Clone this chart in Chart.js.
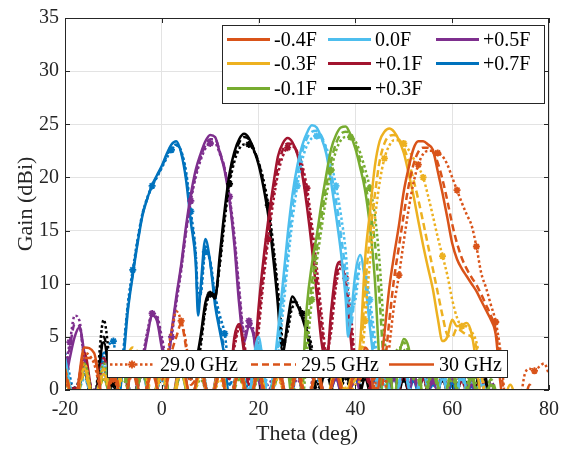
<!DOCTYPE html>
<html>
<head>
<meta charset="utf-8">
<script src="https://cdn.jsdelivr.net/npm/chart.js@4.4.1/dist/chart.umd.min.js"></script>
<style>
  html, body { margin: 0; padding: 0; background: #fff; }
  #wrap { width: 575px; height: 449px; }
</style>
</head>
<body>
<div id="wrap"><canvas id="gainChart" width="575" height="449"></canvas></div>
<script>
// ---- beam +0.7F ----
const theta_p07 = [-20,-18,-16,-14,-12,-10,-9,-8,-7,-6,-5,-4,-3,-2,-1,0,1,2,3,4,5,6,7,7.5,8,9,10,11,12,13,14,16,18,20,22,24,26,28,30,32,34,36,38,40,42,44,46,48,50,52,54,56,58,60,62,64,66];
const gain_p07_30 = [2.5,-1,1.5,-2,3.5,2.0, -1,2.5,7.5,10.8,13.8,16.4,18.0,19.3,20.2,21.1,22.2,23.1,23.4,22.3,19.8,15.8,12.0, 7.0, 9.5,14.2,12.0,8.0,5.5,3.0,-1, 2.5,-1,1.8,-2,2.5,-2,1.5,-2,2.0,-1,1.0,-2,1.5,-2,1.0,-2,1.2,-2,0.8,-2,1.0,-2,0.5,-2,0.5,-2];
const gain_p07_295 = [1.5,-1.5,2.5,-1,2.5,3.5, -0.5,3,7.8,11,14,16.5,18.0,19.2,20.1,21.0,22.0,22.8,23.1,22.4,20.2,16.3,12.5, 8.0, 9.0,13.5,12.0,8.5,6.0,3.5,0.5, 3.0,0,1.0,-1,2.0,-1.5,2.0,-2,1.5,-1.5,1.5,-1,1.0,-2,1.5,-2,1.0,-2,1.2,-2,0.5,-2,0.8,-2,0.3,-2];
const gain_p07_29 = [3.5,0,2.0,-1.5,3.0,4.6, 0,3.5,8.2,11.3,14.2,16.6,18.1,19.2,20.0,20.9,21.8,22.6,23.0,22.5,20.6,16.8,13.0, 9.0, 9.0,13.0,12.2,9.0,7.0,5.3,2.0, 3.5,0.5,1.5,-1.5,1.5,-1,2.5,-1.5,1.0,-1,2.0,-1.5,1.8,-1.5,1.0,-1.5,1.5,-2,1.0,-2,1.2,-2,0.5,-2,0.8,-2];

// ---- beam +0.5F ----
const theta_p05 = [-20,-19,-18,-17,-16,-14,-12,-10,-8,-6,-5,-4,-3,-2,-1,0,1,2,3,4,5,6,7,8,9,10,11,12,13,14,15,16,17,18,19,20,22,24,26,28,30,32,34,36,38,40,42,44,46,48,50,52,54,56,58,60,62,64,66,68,70];
const gain_p05_30 = [0.5,3.0,5.0,5.9,3.5,-1,1.5,-1,2.0,-1, 0.5,2.5,5.0,7.0,6.5,4.0,2.0,5.5,8.8,11.8,15.4,18.4,20.7,22.2,23.4,24.0,23.8,22.3,20.6,17.8,13.6,8.0,4.5,6.0,5.0,1.0, -1,2.0,-1,1.5,-2,2.2,-1,1.0,-2,1.5,-2,2.0,-2,1.0,-2,1.5,-2,1.0,-2,1.8,-2,0.5,-2,0.5,-2];
const gain_p05_295 = [1.5,4.0,6.2,6.0,3.0,0,1.0,-1,2.5,-1, 0.8,2.8,5.2,7.0,6.8,4.5,2.5,5.2,8.5,11.5,15.0,18.0,20.3,21.9,23.0,23.6,23.6,22.4,20.8,18.0,14.0,9.0,5.0,6.2,5.2,1.5, 0,1.5,-1.5,2.0,-1.5,1.5,-1.5,1.5,-1.5,1.0,-2,1.5,-1.5,1.5,-2,1.0,-2,1.5,-2,1.0,-2,1.0,-2,0.3,-2];
const gain_p05_29 = [2.0,4.5,7.0,6.5,2.5,-1,2.0,-1.5,1.5,-1.5, 1.0,3.0,5.5,7.2,7.0,5.0,3.0,5.0,8.2,11.2,14.8,17.8,20.0,21.6,22.7,23.2,23.2,22.2,20.8,18.2,14.5,9.5,5.5,6.5,5.5,2.0, 0.5,2.5,-1,1.0,-1,2.5,-1.5,1.8,-1,2.0,-1.5,1.0,-1.5,2.0,-1.5,1.2,-2,0.8,-2,1.5,-1.5,1.2,-2,0.8,-2];

// ---- beam +0.3F ----
const theta_p03 = [-20,-18,-16,-14,-12,-10,-8,-6,-4,-2,0,2,4,6,7,8,9,10,11,12,13,14,15,16,17,18,19,20,21,22,23,24,24.5,25,26,27,28,29,30,31,32,34,36,38,40,42,44,46,48,50,52,54,56,58,60,62,64,66,68,70];
const gain_p03_30 = [1.0,-1,2.0,-1,4.5,-1,2.5,-1.5,2.0,-1,1.5,-1,2.0,1.0, 2.5,5.0,8.2,9.2,8.6,12.8,17.0,20.4,22.4,23.6,24.1,23.7,22.6,21.2,19.1,16.4,12.5,7.9, 4.8, 3.5,6.5,8.8,8.0,6.8,5.2,3.0,-1, 2.0,-1,1.5,-2,1.0,-2,1.5,-2,1.0,-2,1.5,-2,1.0,-2,1.5,-2,2.5,-1,-2];
const gain_p03_295 = [2.0,-1,1.5,-1.5,5.0,0,2.0,-1,1.5,-1.5,2.0,-1,1.5,1.5, 2.0,4.5,7.8,9.0,8.8,12.2,16.5,19.9,22.0,23.3,23.8,23.6,22.7,21.4,19.5,16.9,13.2,8.8, 6.0, 4.0,6.0,8.3,8.2,7.0,5.5,3.5,0, 1.5,-1.5,2.0,-1.5,1.5,-2,1.0,-2,1.5,-2,1.0,-2,1.5,-2,1.0,-2,2.0,-1.5,-2];
const gain_p03_29 = [1.5,0,2.5,-1,6.6,0.5,1.5,-1,2.5,-1,1.0,-1.5,2.5,2.0, 1.5,4.0,7.5,9.0,9.0,11.8,16.0,19.4,21.5,22.7,23.1,23.1,22.5,21.4,19.8,17.4,13.8,9.5, 7.0, 4.5,5.5,7.8,8.0,7.2,5.8,4.0,0.5, 2.5,-1,1.0,-1.5,2.0,-1.5,1.5,-1.5,1.0,-1.5,2.0,-1.5,1.0,-2,2.0,-1.5,1.5,-1,-2];

// ---- beam +0.1F ----
const theta_p01 = [-20,-18,-16,-14,-12,-10,-8,-6,-4,-2,0,2,4,6,8,10,12,14,15,16,17,18,19,20,21,22,23,24,25,26,27,28,29,30,31,32,33,34,35,36,37,38,39,40,42,44,46,48,50,52,54,56,58,60,62,64,66,68,70];
const gain_p01_30 = [2.0,-1,3.5,-1,2.0,-1.5,2.5,-1,1.5,-1.5,2.0,-1,3.0,-1,2.0,-1,2.5, 1.0,5.0,6.2,3.5,0.5,1.8,7.8,12.3,16.0,19.2,22.0,23.2,23.7,23.3,22.2,20.3,17.2,13.4,9.0,4.5,2.5,7.5,11.3,12.1,9.8,5.0,1.0, 2.0,-1,1.5,-2,2.0,-1.5,1.0,-2,1.5,-2,1.0,-2,0.5,-2,-2];
const gain_p01_295 = [1.0,-1.5,2.5,-1,3.0,-1,2.0,-1.5,2.5,-1,1.5,-1.5,2.5,-1,1.5,-1.5,2.0, 1.5,4.5,6.0,4.0,1.0,1.5,6.5,11.2,15.0,18.4,21.0,22.6,23.2,23.1,22.3,20.8,18.2,14.6,10.5,6.0,3.0,6.5,10.5,11.8,10.2,6.5,2.0, 1.5,-1.5,2.0,-1.5,1.5,-2,1.5,-1.5,1.0,-2,1.5,-2,1.0,-2,-2];
const gain_p01_29 = [1.5,0,2.0,-1.5,2.5,-1,1.5,-1,2.0,-1,2.5,-1,2.0,-1.5,2.5,-1,1.5, 2.0,4.0,5.8,4.5,1.5,1.0,5.5,10.2,14.2,17.6,20.3,22.0,22.8,22.9,22.4,21.2,19.0,15.6,11.6,7.2,3.5,5.5,9.8,11.5,10.5,7.5,3.0, 2.5,-1,1.0,-1.5,2.0,-1.5,1.5,-2,1.5,-1.5,0.8,-2,1.2,-2,-2];

// ---- beam 0.0F ----
const theta_p00 = [-20,-18,-16,-14,-12,-10,-8,-6,-4,-2,0,2,4,6,8,10,12,14,16,18,19,20,21,22,23,24,25,26,27,28,29,30,31,32,33,34,35,36,37,38,38.5,39,40,41,42,43,44,45,46,48,50,52,54,56,58,60,62,64,66,68,70];
const gain_p00_30 = [3.0,-1,2.0,-1.5,1.5,-1,2.5,-1,1.5,-2,2.0,-1,1.5,-1.5,2.5,-1,2.0,-1,1.5,-1, 3.0,5.0,2.0,-1,1.5,5.5,10.0,14.6,18.4,21.1,23.0,24.2,24.9,24.7,23.7,22.2,19.5,16.4,13.0,8.5, 5.0, 6.5,11.0,12.7,10.2,5.9,2.0,-1,1.5, -1,2.0,-1.5,1.5,-2,1.0,-2,1.5,-2,0.5,-2,-2];
const gain_p00_295 = [2.0,-1.5,1.5,-1,2.5,-1.5,1.5,-1,2.0,-1.5,1.5,-1.5,2.0,-1,1.5,-1.5,2.5,-1,2.0,-0.5, 2.5,4.5,2.5,-0.5,0.5,4.0,8.5,13.2,17.2,20.2,22.4,23.7,24.3,24.4,23.9,22.6,20.4,17.8,14.6,10.8, 7.5, 6.0,9.5,12.0,11.0,7.5,3.5,0,1.0, -1,1.5,-1,2.0,-1.5,1.5,-2,1.0,-2,1.0,-2,-2];
const gain_p00_29 = [2.5,-1,1.0,-1,2.0,-1,2.0,-1.5,2.5,-1,1.0,-1,2.5,-1.5,2.0,-1,1.5,-1.5,2.5,0, 2.0,4.0,3.0,0,0,3.0,7.2,11.8,16.0,19.2,21.6,23.0,23.7,23.9,23.6,22.8,21.3,19.2,16.5,13.0, 10.0, 7.5,8.5,11.5,11.3,8.5,5.0,1.0,0.5, -0.5,2.5,-1,1.5,-1,2.0,-1.5,1.5,-2,1.0,-2,-2];

// ---- beam -0.1F ----
const theta_m01 = [-20,-18,-16,-14,-12,-10,-8,-6,-4,-2,0,2,4,6,8,10,12,14,16,18,20,22,24,25,26,27,28,29,30,31,32,33,34,35,36,37,38,39,40,41,42,43,44,45,46,47,48,49,50,51,52,53,54,56,58,60,62,64,66,68,70];
const gain_m01_30 = [1.5,-1,2.5,-1,1.0,-1.5,2.0,-1,1.5,-1,2.5,-1,1.5,-1.5,2.0,-1,1.5,-1,2.0,-1.5,1.5,-1,2.0, 3.0,2.0,-1,-0.5,1.0,8.0,11.8,14.5,17.6,20.3,22.7,24.0,24.7,24.8,24.0,22.7,20.9,18.8,15.4,10.5,2.5,-1,2.0,-1,3.0,4.8,4.0,1.0,2.5,-1, 2.0,-1,1.5,-2,1.0,-2,0.5,-2];
const gain_m01_295 = [2.0,-1.5,1.5,-1,2.0,-1,1.5,-1.5,2.5,-1,1.5,-1.5,2.0,-1,1.5,-1.5,2.5,-1,1.0,-1,2.0,-1.5,1.5, 2.5,2.5,0,-1,0,5.5,10.0,13.2,16.3,19.2,21.6,23.2,24.1,24.3,24.1,23.1,21.5,19.6,16.8,14.0,8.5,2.0,1.0,2.0,3.5,4.5,3.5,2.0,1.0,-1, 1.5,-1.5,2.0,-1.5,1.5,-2,1.0,-2];
const gain_m01_29 = [1.0,-1,2.0,-1.5,2.5,-1,1.0,-1,2.0,-1.5,2.0,-1,2.5,-1,1.0,-1,2.0,-1.5,2.5,-1,1.0,-1,2.5, 2.0,3.0,1.0,-1,-1,3.5,8.5,12.0,15.2,18.2,20.7,22.5,23.5,23.8,23.8,23.4,22.3,20.8,19.0,16.5,12.0,5.0,1.0,3.0,4.0,3.8,3.0,2.5,2.0,-0.5, 2.5,-1,1.0,-1.5,2.0,-1.5,0.5,-2];

// ---- beam -0.3F ----
const theta_m03 = [-20,-18,-16,-14,-12,-10,-8,-6,-4,-2,0,2,4,6,8,10,12,14,16,18,20,22,24,26,28,30,32,34,36,38,39,40,41,42,43,44,45,46,47,48,49,50,51,52,53,54,55,56,57,58,59,60,61,62,63,64,65,66,67,68,70,72,74,76,78,80];
const gain_m03_30 = [1.0,-1,2.0,-1.5,1.5,-1,2.5,3.5,3.0,-1,1.5,-1,2.0,-1.5,1.5,-1,2.0,-1,1.5,-1.5,2.0,-1,1.5,-1.5,2.0,-1,1.5,-1,2.5,-1, 1.0,1.5,4.5,12.3,16.7,21.0,23.4,24.3,24.6,24.3,23.5,22.3,20.4,18.3,15.9,13.6,11.5,9.5,6.8,4.6,5.0,6.6,6.0,6.1,6.3,5.3,2.5,-1,-2, -2,-2,0.5,-2,-2,-2,-2];
const gain_m03_295 = [2.0,-1,1.5,-1,2.0,-1.5,2.0,4.0,2.5,-1,2.0,-1.5,1.5,-1,2.0,-1.5,1.5,-1,2.0,-1,1.5,-1.5,2.0,-1,1.5,-1.5,2.0,-1.5,2.0,-0.5, 0.5,1.0,2.5,9.5,14.5,18.3,21.5,23.2,23.9,24.0,23.6,22.8,21.5,19.8,17.9,15.8,13.6,11.4,9.2,7.0,5.2,5.0,5.8,5.5,5.2,5.0,4.0,1.5,-1, -2,-2,-1,-2,-2,-2,-2];
const gain_m03_29 = [1.5,-1.5,2.5,-1,1.0,-1,1.5,3.0,3.5,-0.5,1.0,-1,2.5,-1,2.0,-1.5,1.0,-1.5,2.5,-1,2.0,-1,1.0,-1,2.5,-1.5,1.5,-1,1.5,0, 0,0.5,1.0,6.5,12.0,16.0,19.5,21.8,23.0,23.5,23.5,23.2,22.6,21.8,21.0,20.0,18.3,16.4,14.4,12.6,10.8,8.5,6.8,6.0,6.0,5.5,4.5,2.0,-1, -2,-1,-2,-2,-2,-2,-2];

// ---- beam -0.4F ----
const theta_m04 = [-20,-18,-16,-14,-12,-10,-8,-6,-4,-2,0,2,3,4,5,6,8,10,12,14,16,18,20,22,24,26,28,30,32,34,36,38,40,41,42,43,44,45,46,47,48,49,50,51,52,53,54,55,56,57,58,59,60,61,62,63,64,65,66,67,68,69,70,71,72,73,74,75,76,77,78,79,80];
const gain_m04_30 = [1.5,-1,4.0,3.5,-1,1.5,-1.5,2.0,-1,1.5,-1,2.5, 3.5,3.0,1.0, -1,2.0,-1,1.5,-1.5,2.0,-1,1.5,-2,2.5,-1,1.5,-1.5,2.0,-1,1.5,-1.5,2.0, 1.0,4.0,3.0,-1,1.0,5.3,9.6,12.7,15.5,18.7, 20.9,22.7,23.4,23.4,23.1,22.6,20.6,18.5,16.2,13.8, 12.3,11.4,10.7,10.0,9.3,8.4,7.5,6.6,5.2,0.5, -2,-2,-2,-2,-2,-2,-2,-2,-2,-2];
const gain_m04_295 = [2.0,-1.5,3.0,3.0,-1.5,2.0,-1,1.5,-1.5,2.0,-1,3.5, 5.0,6.2,4.0, 0.5,1.5,-1.5,2.0,-1,1.5,-1.5,2.0,-1.5,2.0,-1.5,2.0,-1,1.5,-1.5,2.0,-1,1.5, 1.5,3.0,3.5,0,-1,2.0,6.5,10.5,13.5,16.5, 19.2,21.2,22.4,22.8,22.8,22.4,21.4,19.8,17.8,15.6, 13.8,12.4,11.4,10.6,9.9,9.0,8.0,7.0,5.6,2.0, -1,-2,-2,-2,-1,0.5,-1,-2,-2,-2];
const gain_m04_29 = [1.0,-1,3.5,2.5,-1,1.0,-1.5,2.5,-1,2.5,1.0,5.5, 7.4,6.5,4.5, 1.0,2.0,-1,1.5,-1,2.5,-1,1.5,-1,1.5,-1,2.5,-1.5,2.0,-1,1.5,-1,2.0, 2.0,2.5,3.5,1.0,-1,-0.5,4.0,8.0,10.8,14.0, 17.0,19.5,21.2,22.2,22.5,22.5,22.3,22.0,21.2,20.0, 18.8,17.6,16.5,15.5,13.5,11.0,9.6,8.0,6.4,3.5, -1,-2,-1.5,-1,1.5,2.0,1.8,2.2,2.5,1.5];

const beamLabels = ['-0.4F', '-0.3F', '-0.1F', '0.0F', '+0.1F', '+0.3F', '+0.5F', '+0.7F'];
const freqLabels = ['29.0 GHz', '29.5 GHz', '30 GHz'];
const xTicks = [-20, 0, 20, 40, 60, 80];
const yTicks = [0, 5, 10, 15, 20, 25, 30, 35];

// MATLAB default colour order
const beamColors = {
  '-0.4F': '#D95319', '-0.3F': '#EDB120', '-0.1F': '#77AC30', '0.0F': '#4DBEEE',
  '+0.1F': '#A2142F', '+0.3F': '#000000', '+0.5F': '#7E2F8E', '+0.7F': '#0072BD'
};
const dashByFreq = [[2.5, 2.5], [7, 4], []];

const beams = [
  { label: '+0.7F', theta: theta_p07, gains: [gain_p07_29, gain_p07_295, gain_p07_30] },
  { label: '+0.5F', theta: theta_p05, gains: [gain_p05_29, gain_p05_295, gain_p05_30] },
  { label: '+0.3F', theta: theta_p03, gains: [gain_p03_29, gain_p03_295, gain_p03_30] },
  { label: '+0.1F', theta: theta_p01, gains: [gain_p01_29, gain_p01_295, gain_p01_30] },
  { label: '0.0F',  theta: theta_p00, gains: [gain_p00_29, gain_p00_295, gain_p00_30] },
  { label: '-0.1F', theta: theta_m01, gains: [gain_m01_29, gain_m01_295, gain_m01_30] },
  { label: '-0.3F', theta: theta_m03, gains: [gain_m03_29, gain_m03_295, gain_m03_30] },
  { label: '-0.4F', theta: theta_m04, gains: [gain_m04_29, gain_m04_295, gain_m04_30] }
];

const datasets = [];
beams.forEach(b => {
  const color = beamColors[b.label];
  b.gains.forEach((g, f) => {
    datasets.push({
      label: b.label + ' ' + freqLabels[f],
      data: b.theta.map((t, i) => ({ x: t, y: g[i] })),
      borderColor: color,
      backgroundColor: color,
      borderWidth: 2.5,
      borderDash: dashByFreq[f],
      pointStyle: 'star',
      pointRadius: f === 0 ? (c => (c.dataIndex % 4 === 1 ? 3.5 : 0)) : 0,
      pointBorderColor: color,
      pointBackgroundColor: color,
      pointBorderWidth: 1.8,
      pointHoverRadius: 0,
      cubicInterpolationMode: 'monotone',
      fill: false,
      clip: 0
    });
  });
});
datasets.reverse(); // later curves end up on top, like the original plot

const serif = 'Liberation Serif';
const axisColor = '#262626';

const boxAndLegends = {
  id: 'boxAndLegends',
  afterDatasetsDraw(chart) {
    const { ctx, chartArea: a, scales: { x, y } } = chart;
    ctx.save();
    ctx.setLineDash([]);
    ctx.strokeStyle = axisColor;
    ctx.lineWidth = 1;
    ctx.strokeRect(a.left + 0.5, a.top + 0.5, a.right - a.left - 1, a.bottom - a.top - 1);

    // inward tick marks on all four sides
    ctx.beginPath();
    xTicks.forEach(v => {
      const px = Math.round(x.getPixelForValue(v)) + 0.5;
      ctx.moveTo(px, a.bottom); ctx.lineTo(px, a.bottom - 5);
      ctx.moveTo(px, a.top); ctx.lineTo(px, a.top + 5);
    });
    yTicks.forEach(v => {
      const py = Math.round(y.getPixelForValue(v)) + 0.5;
      ctx.moveTo(a.left, py); ctx.lineTo(a.left + 5, py);
      ctx.moveTo(a.right, py); ctx.lineTo(a.right - 5, py);
    });
    ctx.stroke();

    ctx.font = '20px "' + serif + '"';
    ctx.textBaseline = 'middle';
    ctx.textAlign = 'left';

    // beam legend, three columns filled top to bottom
    ctx.fillStyle = '#fff';
    ctx.fillRect(222.5, 25.5, 322, 78);
    ctx.strokeStyle = axisColor;
    ctx.strokeRect(222.5, 25.5, 322, 78);
    const colX = [227, 328, 436];
    const rowY = [39.5, 63.5, 88.5];
    beamLabels.forEach((lab, i) => {
      const cx = colX[Math.floor(i / 3)];
      const cy = rowY[i % 3];
      ctx.strokeStyle = beamColors[lab];
      ctx.lineWidth = 3;
      ctx.beginPath(); ctx.moveTo(cx, cy); ctx.lineTo(cx + 43, cy); ctx.stroke();
      ctx.fillStyle = '#000';
      ctx.fillText(lab, cx + 47, cy + 1);
    });

    // frequency legend
    ctx.fillStyle = '#fff';
    ctx.fillRect(107.5, 350.5, 400, 27);
    ctx.strokeStyle = axisColor;
    ctx.lineWidth = 1;
    ctx.strokeRect(107.5, 350.5, 400, 27);
    const entryX = [110, 251, 389];
    const ly = 364.5;
    const sample = beamColors['-0.4F'];
    freqLabels.forEach((lab, f) => {
      const sx = entryX[f];
      ctx.strokeStyle = sample;
      ctx.lineWidth = 2.5;
      ctx.setLineDash(dashByFreq[f]);
      ctx.beginPath(); ctx.moveTo(sx, ly); ctx.lineTo(sx + 45, ly); ctx.stroke();
      ctx.setLineDash([]);
      if (f === 0) {
        ctx.lineWidth = 1.8;
        Chart.helpers.drawPoint(ctx, { pointStyle: 'star', radius: 4, borderWidth: 1.8 }, sx + 22, ly);
      }
      ctx.fillStyle = '#000';
      ctx.fillText(lab, sx + 50, ly + 1);
    });
    ctx.restore();
  }
};

new Chart(document.getElementById('gainChart').getContext('2d'), {
  type: 'line',
  data: { datasets: datasets },
  options: {
    responsive: false,
    animation: false,
    events: [],
    devicePixelRatio: 1,
    layout: { padding: { left: 0, right: 26, top: 13, bottom: 0 } },
    plugins: { legend: { display: false }, tooltip: { enabled: false } },
    scales: {
      x: {
        type: 'linear', min: -20, max: 80,
        ticks: { stepSize: 20, maxRotation: 0, padding: 8, color: axisColor, font: { family: serif, size: 20 } },
        grid: { color: '#e3e3e3', drawTicks: false },
        border: { display: false },
        title: { display: true, text: 'Theta (deg)', color: axisColor, font: { family: serif, size: 22 }, padding: { top: 0, bottom: 2 } },
        afterFit: s => { s.height = 59; }
      },
      y: {
        type: 'linear', min: 0, max: 35,
        ticks: { stepSize: 5, padding: 6, color: axisColor, font: { family: serif, size: 20 } },
        grid: { color: '#e3e3e3', drawTicks: false },
        border: { display: false },
        title: { display: true, text: 'Gain (dBi)', color: axisColor, font: { family: serif, size: 22 }, padding: { top: 13, bottom: 0 } },
        afterFit: s => { s.width = 65; }
      }
    }
  },
  plugins: [boxAndLegends]
});
</script>
</body>
</html>
